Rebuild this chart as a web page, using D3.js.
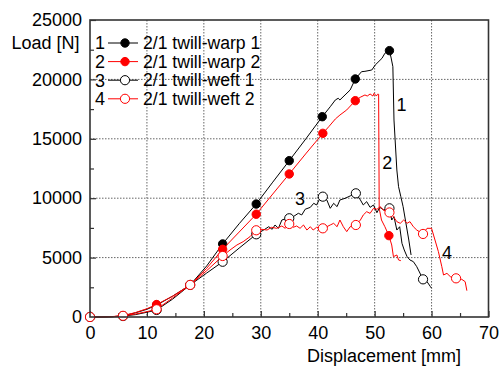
<!DOCTYPE html>
<html>
<head>
<meta charset="utf-8">
<script src="https://cdn.jsdelivr.net/npm/d3@7"></script>
<style>
  body { margin: 0; background: #fff; }
  svg text { font-family: "Liberation Sans", Arial, sans-serif; fill: #000; }
</style>
</head>
<body>
<div id="graf"></div>
<script>
// Load-displacement curves, [displacement mm, load N]
const warp1 = [[0,0],[2,0],[4,30],[5.8,100],[8,350],[10,650],[11.7,1000],[14.5,1750],[17.6,2700],[20.5,4300],[23.3,6150],[26.2,7850],[29.2,9510],[32.1,11350],[35,13160],[38,15050],[40.8,16860],[42.2,17700],[43.1,18270],[43.6,18410],[43.9,18270],[44.8,18690],[45.7,19110],[46.6,20035],[47.7,20650],[48.3,20680],[49.5,20790],[50.1,21210],[51.3,21780],[51.8,22200],[52.6,22420],[52.9,21800],[53.2,21070],[53.4,16580],[53.6,14900],[53.9,12375],[54.2,10970],[54.6,10130],[55.0,9290],[55.4,8165],[56.0,6480],[56.4,5220]]
const warp2 = [[0,0],[2,0],[4,40],[5.8,110],[8,380],[10,700],[11.7,1050],[14.5,1750],[17.6,2700],[20.5,4100],[23.3,5700],[26.2,7150],[29.2,8650],[32.1,10350],[35,12040],[38,13800],[40.9,15460],[42,16050],[43.1,16670],[43.9,17000],[45.1,17430],[46.6,18210],[47.45,18490],[48.3,18690],[48.7,18600],[49.2,18770],[49.7,18600],[49.9,18830],[50.3,18600],[50.5,18750],[50.7,18750],[50.8,9150],[51.2,8165],[51.8,7600],[52.5,6850],[53.0,6060],[53.3,5080],[53.9,5220],[54.2,4800],[54.6,4740]]
const weft1 = [[0,0],[2,0],[4,20],[5.8,80],[8,200],[10,400],[11.7,590],[14.5,1500],[17.6,2700],[20.5,3700],[23.3,4650],[26.2,5800],[29.2,6960],[30.5,7320],[31.4,7600],[32.0,7380],[32.5,7745],[33.1,7465],[33.7,8165],[34.6,8310],[35,8310],[35.7,8445],[36.6,8730],[37.2,8590],[37.8,9070],[38.7,9230],[39.3,9570],[39.8,9430],[40.4,9990],[40.9,10130],[41.6,9850],[42.2,9150],[42.8,9570],[43.4,9290],[43.9,9850],[44.8,9990],[45.7,10190],[46.7,10410],[47.5,9850],[48.0,9430],[48.6,9710],[49.2,9230],[49.8,9430],[50.4,8780],[50.9,9230],[51.6,9010],[52.6,9150],[53.0,8165],[53.4,8445],[53.9,7320],[54.4,7600],[54.8,6200],[55.2,5640],[55.7,5080],[56.2,4800],[56.8,4660],[57.4,4235],[58.5,3170],[59.2,2975],[59.8,2555],[60.0,2415]]
const weft2 = [[0,0],[2,0],[4,30],[5.8,100],[8,250],[10,450],[11.7,650],[14.5,1600],[17.6,2700],[20.5,3900],[23.3,5135],[24.6,5640],[25.8,6060],[26.9,6340],[28.1,6760],[29.2,7300],[30.2,7380],[31.1,7320],[31.9,7550],[32.8,7465],[33.7,7660],[34.3,7465],[35,7830],[35.7,7550],[36.3,7660],[36.9,7465],[37.5,7745],[38.1,7320],[38.7,7600],[39.2,7320],[39.8,7550],[40.9,7465],[41.6,7600],[42.2,7745],[42.8,7885],[43.4,7600],[43.9,8165],[44.5,7600],[45.1,7185],[45.7,7600],[46.7,7745],[47.5,8165],[48.0,8585],[48.6,8865],[49.2,8725],[49.8,9150],[50.4,9065],[51.0,9290],[51.5,9010],[52.6,8800],[53.3,8445],[53.9,8025],[54.5,7885],[55.1,8165],[55.7,7885],[56.2,8025],[56.8,7600],[57.4,7320],[58.5,6990],[59.2,7465],[60.0,7465],[60.6,6480],[61.2,5500],[61.8,4235],[62.1,3535],[62.7,3675],[63.3,3395],[64.3,3255],[65.3,3170],[65.9,2975],[66.2,2215]]

// Marker points
const warp1Marks = [[0,0],[5.8,100],[11.7,1000],[17.6,2700],[23.3,6150],[29.2,9510],[35,13160],[40.8,16860],[46.6,20035],[52.6,22420]]
const warp2Marks = [[0,0],[5.8,110],[11.7,1050],[17.6,2700],[23.3,5700],[29.2,8650],[35,12040],[40.9,15460],[46.6,18210],[52.5,6850]]
const weft1Marks = [[0,0],[5.8,80],[11.7,590],[17.6,2700],[23.3,4650],[29.2,6960],[35,8310],[40.9,10130],[46.7,10410],[52.6,9150],[58.5,3170]]
const weft2Marks = [[0,0],[5.8,100],[11.7,650],[17.6,2700],[23.3,5135],[29.2,7300],[35,7830],[40.9,7465],[46.7,7745],[52.6,8800],[58.5,6990],[64.3,3255]]

const legendNames = ["2/1 twill-warp 1", "2/1 twill-warp 2", "2/1 twill-weft 1", "2/1 twill-weft 2"]
const curveLabels = [["1", 54.7, 17900], ["2", 52.2, 12950], ["3", 36.9, 9950], ["4", 62.7, 5400]]
const xTicks = [0, 10, 20, 30, 40, 50, 60, 70]
const yTicks = [0, 5000, 10000, 15000, 20000, 25000]

const series = [
  { line: warp1, marks: warp1Marks, color: "#000", filled: true },
  { line: warp2, marks: warp2Marks, color: "#ff0000", filled: true },
  { line: weft1, marks: weft1Marks, color: "#000", filled: false },
  { line: weft2, marks: weft2Marks, color: "#ff0000", filled: false }
]

const anchoTotal = 500
const altoTotal = 367
const margins = { top: 20, right: 11.5, bottom: 50, left: 90 }
const ancho = anchoTotal - margins.left - margins.right
const alto = altoTotal - margins.top - margins.bottom

const x = d3.scaleLinear().domain([0, 70]).range([0, ancho])
const y = d3.scaleLinear().domain([0, 25000]).range([alto, 0])

const svg = d3.select("#graf").append("svg")
  .attr("width", anchoTotal)
  .attr("height", altoTotal)

const chart = svg.append("g")
  .attr("transform", `translate(${margins.left}, ${margins.top})`)

// dotted grid
chart.append("g").selectAll("line")
  .data(xTicks.filter((d) => d > 0 && d < 70))
  .join("line")
  .attr("x1", (d) => x(d)).attr("x2", (d) => x(d))
  .attr("y1", 0).attr("y2", alto)
  .attr("stroke", "#666").attr("stroke-width", 1).attr("stroke-dasharray", "1.5,1.5")
chart.append("g").selectAll("line")
  .data(yTicks.filter((d) => d > 0 && d < 25000))
  .join("line")
  .attr("x1", 0).attr("x2", ancho)
  .attr("y1", (d) => y(d)).attr("y2", (d) => y(d))
  .attr("stroke", "#666").attr("stroke-width", 1).attr("stroke-dasharray", "1.5,1.5")

// axes, ticks inward
const xAxis = d3.axisBottom(x).tickValues(xTicks).tickSize(-6).tickPadding(9).tickFormat(d3.format("d"))
const xMinor = d3.axisBottom(x).tickValues(d3.range(5, 70, 10)).tickSize(-4).tickFormat("")
const yAxis = d3.axisLeft(y).tickValues(yTicks).tickSize(-6).tickPadding(8).tickFormat(d3.format("d"))
const yMinor = d3.axisLeft(y).tickValues(d3.range(2500, 25000, 5000)).tickSize(-4).tickFormat("")

const styleAxis = (g) => {
  g.select(".domain").remove()
  g.selectAll("line").attr("stroke", "#333").attr("stroke-width", 1.2)
  g.selectAll("text").style("font-size", "18px")
}
chart.append("g").attr("transform", `translate(0, ${alto})`).call(xAxis).call(styleAxis)
chart.append("g").attr("transform", `translate(0, ${alto})`).call(xMinor).call(styleAxis)
chart.append("g").call(yAxis).call(styleAxis)
chart.append("g").call(yMinor).call(styleAxis)

const line = d3.line().x((d) => x(d[0])).y((d) => y(d[1]))

series.forEach((s) => {
  chart.append("path")
    .datum(s.line)
    .attr("d", line)
    .attr("fill", "none")
    .attr("stroke", s.color)
    .attr("stroke-width", 1)
  chart.append("g").selectAll("circle")
    .data(s.marks)
    .join("circle")
    .attr("cx", (d) => x(d[0]))
    .attr("cy", (d) => y(d[1]))
    .attr("r", s.filled ? 4.2 : 4.6)
    .attr("fill", s.filled ? s.color : "#fff")
    .attr("stroke", s.color)
    .attr("stroke-width", 1)
})

// frame
chart.append("rect")
  .attr("width", ancho).attr("height", alto)
  .attr("fill", "none").attr("stroke", "#333").attr("stroke-width", 1.6)

// curve numbers
chart.append("g").selectAll("text")
  .data(curveLabels)
  .join("text")
  .attr("x", (d) => x(d[1]))
  .attr("y", (d) => y(d[2]))
  .attr("text-anchor", "middle")
  .attr("dy", "0.35em")
  .style("font-size", "18px")
  .text((d) => d[0])

// legend
const legend = svg.append("g")
const rows = legend.selectAll("g")
  .data(series)
  .join("g")
  .attr("transform", (d, i) => `translate(0, ${43 + i * 18.6})`)
rows.append("text").attr("x", 100).attr("text-anchor", "middle").attr("dy", "0.35em")
  .style("font-size", "18px").text((d, i) => i + 1)
rows.append("line").attr("x1", 108).attr("x2", 138)
  .attr("stroke", (d) => d.color).attr("stroke-width", 1)
rows.append("circle").attr("cx", 125).attr("r", (d) => d.filled ? 4.2 : 4.6)
  .attr("fill", (d) => d.filled ? d.color : "#fff")
  .attr("stroke", (d) => d.color)
rows.append("text").attr("x", 143).attr("dy", "0.35em")
  .style("font-size", "17.6px").text((d, i) => legendNames[i])

// axis titles
svg.append("text").attr("x", 45.5).attr("y", 43).attr("dy", "0.35em")
  .attr("text-anchor", "middle").style("font-size", "18px").text("Load [N]")
svg.append("text").attr("x", 384).attr("y", 356).attr("dy", "0.35em")
  .attr("text-anchor", "middle").style("font-size", "18px").text("Displacement [mm]")
</script>
</body>
</html>
